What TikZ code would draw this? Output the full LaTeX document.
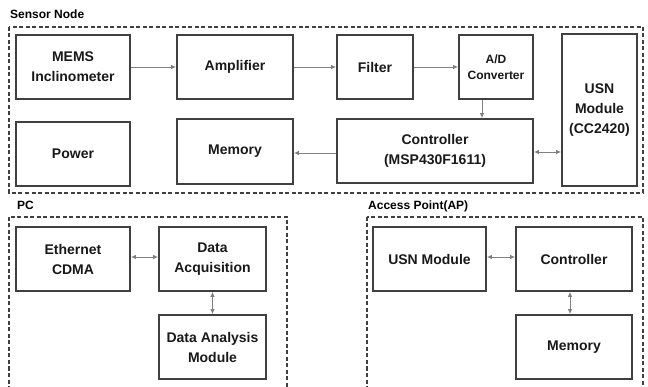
\documentclass[tikz,border=0pt]{standalone}
\usepackage{fontspec}
\setmainfont{Liberation Sans}
\usetikzlibrary{arrows.meta}
\definecolor{boxline}{HTML}{404040}
\definecolor{arrline}{HTML}{808080}
\tikzset{
  blk/.style={draw=boxline, line width=1.8pt, fill=white, inner sep=0pt, align=center,
    font=\fontsize{14}{20}\selectfont\bfseries, text=black!90},
  smalltxt/.style={font=\fontsize{12}{16}\selectfont\bfseries},
  arr/.style={draw=arrline, line width=0.9pt, -{Latex[length=5pt,width=4.5pt]}},
  biarr/.style={draw=arrline, line width=0.9pt, {Latex[length=5pt,width=4.5pt]}-{Latex[length=5pt,width=4.5pt]}},
  group/.style={draw=boxline, line width=1.3pt, dash pattern=on 4pt off 2.5pt},
  grouplabel/.style={anchor=west, inner sep=0pt, font=\fontsize{12}{14}\selectfont\bfseries}
}
\begin{document}
\begin{tikzpicture}[x=1pt,y=-1pt]
  \useasboundingbox (0,0) rectangle (648,387);
  \begin{scope}
    \clip (0,0) rectangle (648,387);
    % group frames
    \draw[group] (9,27) rectangle (643,193);
    \draw[group] (9,217) rectangle (287,400);
    \draw[group] (367,217) rectangle (643,400);
  \end{scope}
  \node[grouplabel] (lsn) at (10,14) {Sensor Node};
  \node[grouplabel] (lpc) at (17,205) {PC};
  \node[grouplabel] (lap) at (368,206) {Access Point(AP)};

  % sensor node
  \node[blk, minimum width=114pt, minimum height=64pt] (mems) at (73,67) {MEMS\\Inclinometer};
  \node[blk, minimum width=116pt, minimum height=64pt] (amp) at (235,67) {Amplifier};
  \node[blk, minimum width=76pt, minimum height=64pt] (filt) at (375,67) {Filter};
  \node[blk, minimum width=74pt, minimum height=64pt, smalltxt] (adc) at (496,67) {A/D\\Converter};
  \node[blk, minimum width=75pt, minimum height=152pt] (usn) at (599.5,110) {USN\\Module\\(CC2420)};
  \node[blk, minimum width=196pt, minimum height=64pt] (ctrl) at (435,151) {Controller\\(MSP430F1611)};
  \node[blk, minimum width=114pt, minimum height=64pt] (pwr) at (73,154) {Power};
  \node[blk, minimum width=116pt, minimum height=65pt] (mem) at (235,151.5) {Memory};

  \draw[arr] (mems) -- (amp);
  \draw[arr] (amp) -- (filt);
  \draw[arr] (filt) -- (adc);
  \draw[arr] ([xshift=-14pt]adc.south) -- ([xshift=-14pt]adc.south |- ctrl.north);
  \draw[arr] ([yshift=-2pt]ctrl.west) -- ([yshift=-2pt]ctrl.west -| mem.east);
  \draw[biarr] ([yshift=-1pt]ctrl.east) -- ([yshift=-1pt]ctrl.east -| usn.west);

  % PC
  \node[blk, minimum width=114pt, minimum height=64pt] (eth) at (73,259) {Ethernet\\CDMA};
  \node[blk, minimum width=107pt, minimum height=64pt] (daq) at (212.5,259) {Data\\Acquisition};
  \node[blk, minimum width=107pt, minimum height=64pt] (dam) at (212.5,347) {Data Analysis\\Module};
  \draw[biarr] ([yshift=2pt]eth.east) -- ([yshift=2pt]eth.east -| daq.west);
  \draw[biarr] (daq) -- (dam);

  % access point
  \node[blk, minimum width=113pt, minimum height=64pt] (apusn) at (429.5,259) {USN Module};
  \node[blk, minimum width=116pt, minimum height=64pt] (apctrl) at (574,259) {Controller};
  \node[blk, minimum width=116pt, minimum height=64pt] (apmem) at (574,347) {Memory};
  \draw[biarr] ([yshift=2pt]apusn.east) -- ([yshift=2pt]apusn.east -| apctrl.west);
  \draw[biarr] ([xshift=-4pt]apctrl.south) -- ([xshift=-4pt]apmem.north);
\end{tikzpicture}
\end{document}
